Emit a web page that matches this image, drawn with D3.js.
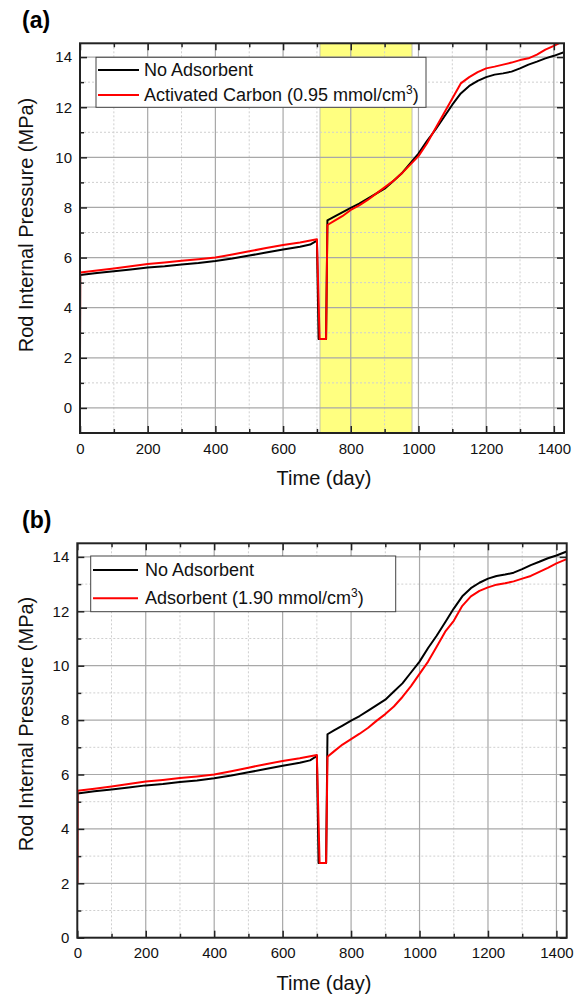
<!DOCTYPE html>
<html>
<head>
<meta charset="utf-8">
<script src="https://cdn.jsdelivr.net/npm/d3@7"></script>
<style>
  body { margin: 0; background: #fff; }
  svg { font-family: Arial, "Liberation Sans", sans-serif; }
</style>
</head>
<body>
<div id="chart"></div>
<script>
// ---- data ----
const daysBlack = [0, 0.5, 50, 100, 150, 200, 250, 300, 350, 400, 450, 500, 550, 600, 650, 680, 700,
  705, 727, 731, 750, 775, 800, 825, 850, 875, 900, 925, 950, 975, 1000, 1025, 1050, 1075, 1100,
  1125, 1150, 1175, 1200, 1225, 1250, 1275, 1300, 1325, 1350, 1375, 1400, 1430];
const noAdsorbent = [2.0, 5.3, 5.38, 5.45, 5.52, 5.6, 5.65, 5.72, 5.78, 5.86, 5.96, 6.08, 6.2, 6.32, 6.43, 6.52, 6.68,
  2.75, 2.75, 7.48, 7.62, 7.8, 7.98, 8.15, 8.35, 8.55, 8.75, 9.05, 9.35, 9.75, 10.15, 10.65, 11.1, 11.6, 12.1,
  12.55, 12.85, 13.05, 13.2, 13.3, 13.35, 13.42, 13.55, 13.7, 13.82, 13.95, 14.05, 14.2];

const daysRed = [0, 0.5, 50, 100, 150, 200, 250, 300, 350, 400, 450, 500, 550, 600, 650, 700,
  708, 727, 731, 750, 775, 800, 825, 850, 875, 900, 925, 950, 975, 1000, 1025, 1050, 1075, 1100,
  1125, 1150, 1175, 1200, 1225, 1250, 1275, 1300, 1325, 1350, 1375, 1400, 1430];
const activatedCarbon = [2.0, 5.4, 5.48, 5.56, 5.65, 5.74, 5.8, 5.87, 5.93, 6.0, 6.12, 6.25, 6.38, 6.5, 6.6, 6.73,
  2.75, 2.75, 7.3, 7.45, 7.65, 7.9, 8.08, 8.3, 8.55, 8.8, 9.05, 9.35, 9.7, 10.05, 10.55, 11.15, 11.75, 12.35,
  12.95, 13.2, 13.4, 13.55, 13.62, 13.7, 13.78, 13.88, 13.95, 14.1, 14.3, 14.45, 14.65];
const adsorbent190 = [2.0, 5.4, 5.48, 5.56, 5.65, 5.74, 5.8, 5.87, 5.93, 6.0, 6.12, 6.25, 6.38, 6.5, 6.6, 6.72,
  2.75, 2.75, 6.65, 6.85, 7.1, 7.3, 7.5, 7.72, 7.98, 8.22, 8.5, 8.85, 9.25, 9.7, 10.15, 10.7, 11.25, 11.65,
  12.2, 12.55, 12.75, 12.88, 12.98, 13.03, 13.1, 13.2, 13.3, 13.45, 13.6, 13.76, 13.92];

const xMajor = [0, 200, 400, 600, 800, 1000, 1200, 1400];
const xMinor = [100, 300, 500, 700, 900, 1100, 1300];
const yMajor = [0, 2, 4, 6, 8, 10, 12, 14];
const yMinor = [1, 3, 5, 7, 9, 11, 13];
const highlightDays = [709, 981];

const legendA = ["No Adsorbent", "Activated Carbon (0.95 mmol/cm", "3", ")"];
const legendB = ["No Adsorbent", "Adsorbent (1.90 mmol/cm", "3", ")"];

// ---- layout ----
const panels = [
  { id: "a", tag: "(a)", left: 80, right: 564, top: 43.3, bottom: 433, yDomain: [-1, 14.55],
    red: activatedCarbon, legend: legendA, band: true,
    legBox: [96, 57.3, 426, 107.3], legRows: [70, 95], legLine: [98, 139], legText: 144,
    yTitleY: 225, xTitleY: 485, tagY: 28 },
  { id: "b", tag: "(b)", left: 77.3, right: 566.7, top: 543.3, bottom: 937.7, yDomain: [0, 14.5],
    red: adsorbent190, legend: legendB, band: false,
    legBox: [90.7, 556, 395.7, 611.7], legRows: [570, 598.3], legLine: [93, 138], legText: 145,
    yTitleY: 724, xTitleY: 990, tagY: 528 }
];

const svg = d3.select("#chart").append("svg")
  .attr("width", 584)
  .attr("height", 997);

panels.forEach(p => drawPanel(p));

function drawPanel(p) {
  const x = d3.scaleLinear().domain([0, 1430]).range([p.left, p.right]);
  const y = d3.scaleLinear().domain(p.yDomain).range([p.bottom, p.top]);
  const g = svg.append("g");

  g.append("clipPath").attr("id", "clip" + p.id)
    .append("rect")
    .attr("x", p.left).attr("y", p.top)
    .attr("width", p.right - p.left).attr("height", p.bottom - p.top);

  // highlighted period
  if (p.band) {
    g.append("rect")
      .attr("x", x(highlightDays[0]))
      .attr("y", p.top)
      .attr("width", x(highlightDays[1]) - x(highlightDays[0]))
      .attr("height", p.bottom - p.top)
      .attr("fill", "#ffff80")
      .attr("stroke", "#b0b0b0")
      .attr("stroke-width", 0.8);
  }

  // grid
  g.append("g").selectAll("line").data(xMinor).join("line")
    .attr("x1", d => x(d)).attr("x2", d => x(d))
    .attr("y1", p.top).attr("y2", p.bottom)
    .attr("stroke", "#cfcfcf").attr("stroke-dasharray", "2,2");
  g.append("g").selectAll("line").data(yMinor).join("line")
    .attr("x1", p.left).attr("x2", p.right)
    .attr("y1", d => y(d)).attr("y2", d => y(d))
    .attr("stroke", "#cfcfcf").attr("stroke-dasharray", "2,2");
  g.append("g").selectAll("line").data(xMajor.slice(1)).join("line")
    .attr("x1", d => x(d)).attr("x2", d => x(d))
    .attr("y1", p.top).attr("y2", p.bottom)
    .attr("stroke", "#a8a8a8").attr("stroke-width", 1.2);
  g.append("g").selectAll("line").data(yMajor.filter(d => y(d) < p.bottom - 1)).join("line")
    .attr("x1", p.left).attr("x2", p.right)
    .attr("y1", d => y(d)).attr("y2", d => y(d))
    .attr("stroke", "#a8a8a8").attr("stroke-width", 1.2);

  // curves
  let line = d3.line().x(d => x(d[0])).y(d => y(d[1]));
  const series = [
    { days: daysBlack, vals: noAdsorbent, color: "#000000" },
    { days: daysRed, vals: p.red, color: "#ff0000" }
  ];
  g.append("g").attr("clip-path", `url(#clip${p.id})`)
    .selectAll("path").data(series).join("path")
    .attr("d", s => line(d3.zip(s.days, s.vals)))
    .attr("fill", "none")
    .attr("stroke", d => d.color)
    .attr("stroke-width", 2)
    .attr("stroke-linejoin", "round");

  // axes, ticks point inward
  const fmt = d3.format("d");
  const addAxis = (axis, tx, ty, labels) => {
    const a = g.append("g").attr("transform", `translate(${tx},${ty})`).call(axis);
    a.select(".domain").remove();
    a.selectAll("line").attr("stroke", "#222").attr("stroke-width", 1.5);
    a.selectAll("text").attr("font-size", 15).attr("fill", "#111");
    if (!labels) a.selectAll("text").remove();
  };
  addAxis(d3.axisBottom(x).tickValues(xMajor).tickSize(-7).tickPadding(10).tickFormat(fmt), 0, p.bottom, true);
  addAxis(d3.axisBottom(x).tickValues(xMinor).tickSize(-4), 0, p.bottom, false);
  addAxis(d3.axisTop(x).tickValues(xMajor).tickSize(-7), 0, p.top, false);
  addAxis(d3.axisTop(x).tickValues(xMinor).tickSize(-4), 0, p.top, false);
  addAxis(d3.axisLeft(y).tickValues(yMajor).tickSize(-7).tickPadding(8).tickFormat(fmt), p.left, 0, true);
  addAxis(d3.axisLeft(y).tickValues(yMinor).tickSize(-4), p.left, 0, false);
  addAxis(d3.axisRight(y).tickValues(yMajor).tickSize(-7), p.right, 0, false);
  addAxis(d3.axisRight(y).tickValues(yMinor).tickSize(-4), p.right, 0, false);

  // frame
  g.append("rect")
    .attr("x", p.left).attr("y", p.top)
    .attr("width", p.right - p.left).attr("height", p.bottom - p.top)
    .attr("fill", "none").attr("stroke", "#222").attr("stroke-width", 2);

  // legend
  const [lx0, ly0, lx1, ly1] = p.legBox;
  const leg = g.append("g");
  leg.append("rect")
    .attr("x", lx0).attr("y", ly0).attr("width", lx1 - lx0).attr("height", ly1 - ly0)
    .attr("fill", "#fff").attr("stroke", "#444").attr("stroke-width", 1);
  const rows = [{ color: "#000", text: [p.legend[0]] }, { color: "#f00", text: p.legend.slice(1) }];
  rows.forEach((r, i) => {
    const yy = p.legRows[i];
    leg.append("line")
      .attr("x1", p.legLine[0]).attr("x2", p.legLine[1])
      .attr("y1", yy).attr("y2", yy)
      .attr("stroke", r.color).attr("stroke-width", 2);
    const t = leg.append("text")
      .attr("x", p.legText).attr("y", yy + 6)
      .attr("font-size", 18).attr("fill", "#111");
    t.append("tspan").text(r.text[0]);
    if (r.text.length > 1) {
      t.append("tspan").attr("dy", -7).attr("font-size", 12).text(r.text[1]);
      t.append("tspan").attr("dy", 7).text(r.text[2]);
    }
  });

  // titles
  g.append("text")
    .attr("x", (p.left + p.right) / 2 + 2).attr("y", p.xTitleY)
    .attr("text-anchor", "middle").attr("font-size", 20).attr("fill", "#111")
    .text("Time (day)");
  g.append("text")
    .attr("transform", `translate(33,${p.yTitleY}) rotate(-90)`)
    .attr("text-anchor", "middle").attr("font-size", 20).attr("fill", "#111")
    .text("Rod Internal Pressure (MPa)");
  g.append("text")
    .attr("x", 22).attr("y", p.tagY)
    .attr("font-size", 23).attr("font-weight", "bold").attr("fill", "#000")
    .text(p.tag);
}
</script>
</body>
</html>
